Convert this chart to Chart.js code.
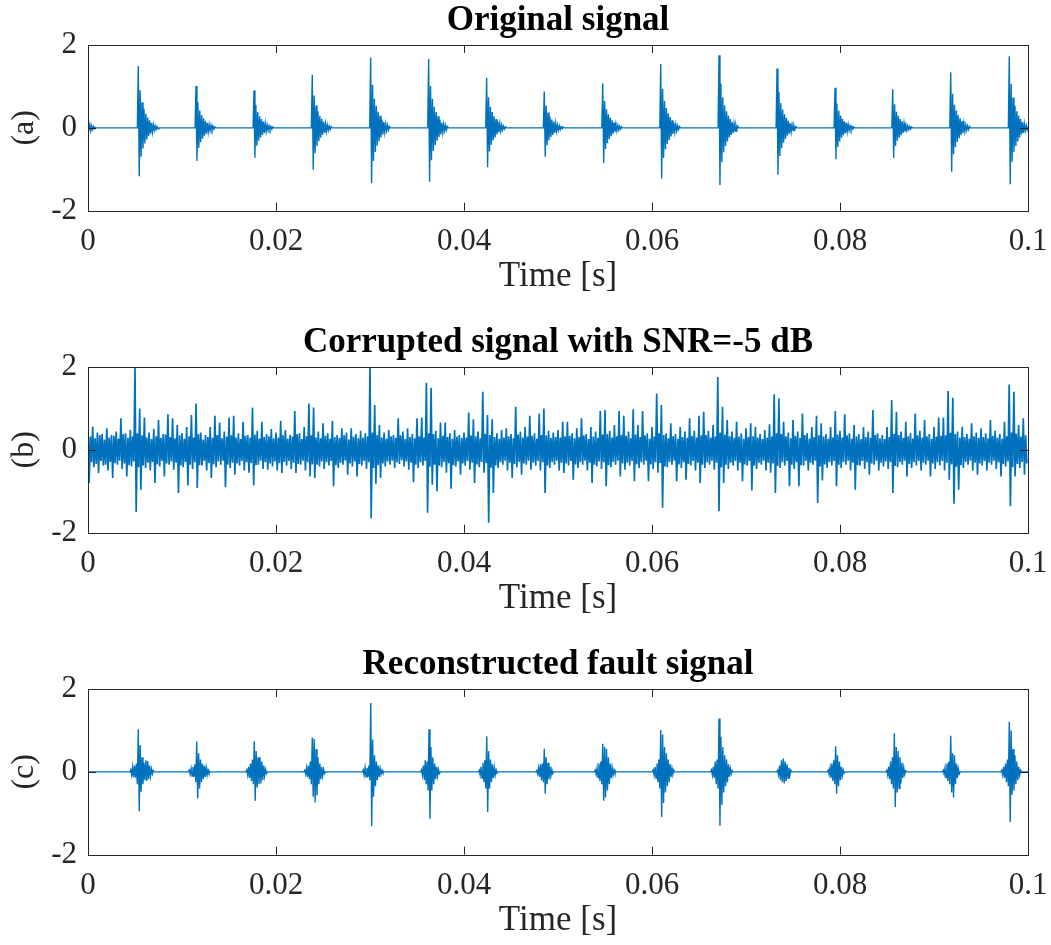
<!DOCTYPE html>
<html>
<head>
<meta charset="utf-8">
<title>Original / corrupted / reconstructed signal</title>
<script src="https://cdn.jsdelivr.net/npm/chart.js@4.4.0/dist/chart.umd.min.js"></script>
<style>
  body { margin: 0; background: #ffffff; }
  #figura { position: relative; width: 1051px; height: 945px; }
  #figura canvas { position: absolute; left: 0; }
</style>
</head>
<body>
<div id="figura">
  <canvas id="panelA" width="1051" height="300" style="top:0px"></canvas>
  <canvas id="panelB" width="1051" height="300" style="top:322px"></canvas>
  <canvas id="panelC" width="1051" height="300" style="top:644px"></canvas>
</div>
<script>
// ---- Datos ----
const xTicks = [0, 0.02, 0.04, 0.06, 0.08, 0.1];
const xTickLabels = ['0', '0.02', '0.04', '0.06', '0.08', '0.1'];
const yTicks = [-2, 0, 2];
const yTickLabels = ['-2', '0', '2'];
const panelTitles = ['Original signal', 'Corrupted signal with SNR=-5 dB', 'Reconstructed fault signal'];
const panelLabels = ['(a)', '(b)', '(c)'];
const xLabel = 'Time [s]';

// separacion entre muestras dentro de cada impulso [s]
const sampleStep = 0.0001;

// (a) senal original: inicio de cada impulso y sus muestras
const origStarts = [0, 0.00535, 0.01149, 0.01766, 0.02386, 0.03007, 0.03624, 0.04241, 0.04854,
  0.05476, 0.06093, 0.06713, 0.07330, 0.07947, 0.08561, 0.09178, 0.09801];
const origBursts = [
  [0.12, -0.10, 0.08, -0.07, 0.05, -0.04, 0.03, -0.02, 0.01],
  [1.49, -1.17, 0.91, -0.70, 0.62, -0.50, 0.46, -0.38, 0.34, -0.28, 0.25, -0.20, 0.18, -0.14, 0.12, -0.10, 0.08, -0.06, 0.05, -0.04, 0.03, -0.02],
  [1.01, -0.80, 0.62, -0.48, 0.42, -0.34, 0.31, -0.26, 0.23, -0.19, 0.17, -0.14, 0.12, -0.10, 0.08, -0.07, 0.06, -0.04, 0.04, -0.03, 0.02],
  [0.90, -0.72, 0.55, -0.43, 0.38, -0.31, 0.28, -0.23, 0.21, -0.17, 0.15, -0.12, 0.11, -0.09, 0.07, -0.06, 0.05, -0.04, 0.03, -0.03, 0.02],
  [1.28, -1.01, 0.78, -0.61, 0.54, -0.43, 0.40, -0.32, 0.29, -0.24, 0.22, -0.17, 0.15, -0.12, 0.10, -0.09, 0.07, -0.06, 0.04, -0.04, 0.03],
  [1.70, -1.34, 1.04, -0.80, 0.71, -0.58, 0.53, -0.43, 0.39, -0.32, 0.29, -0.23, 0.20, -0.16, 0.14, -0.11, 0.09, -0.07, 0.06, -0.05, 0.03],
  [1.66, -1.30, 1.01, -0.78, 0.70, -0.56, 0.51, -0.42, 0.38, -0.31, 0.28, -0.22, 0.20, -0.16, 0.13, -0.11, 0.09, -0.07, 0.06, -0.05, 0.03],
  [1.21, -0.95, 0.74, -0.57, 0.51, -0.41, 0.38, -0.30, 0.28, -0.23, 0.21, -0.16, 0.15, -0.11, 0.10, -0.08, 0.07, -0.05, 0.04, -0.03, 0.02],
  [0.88, -0.70, 0.54, -0.42, 0.37, -0.30, 0.27, -0.22, 0.20, -0.17, 0.15, -0.12, 0.11, -0.08, 0.07, -0.06, 0.05, -0.04, 0.03, -0.02, 0.02],
  [1.07, -0.85, 0.65, -0.51, 0.45, -0.37, 0.33, -0.27, 0.25, -0.20, 0.18, -0.14, 0.13, -0.10, 0.09, -0.07, 0.06, -0.05, 0.04, -0.03, 0.02],
  [1.54, -1.22, 0.94, -0.73, 0.65, -0.52, 0.48, -0.39, 0.35, -0.29, 0.26, -0.21, 0.18, -0.15, 0.12, -0.10, 0.08, -0.07, 0.05, -0.04, 0.03],
  [1.75, -1.38, 1.07, -0.83, 0.74, -0.59, 0.54, -0.44, 0.40, -0.33, 0.30, -0.23, 0.21, -0.17, 0.14, -0.12, 0.10, -0.08, 0.06, -0.05, 0.04],
  [1.43, -1.13, 0.87, -0.68, 0.60, -0.49, 0.44, -0.36, 0.33, -0.27, 0.24, -0.19, 0.17, -0.14, 0.11, -0.10, 0.08, -0.06, 0.05, -0.04, 0.03],
  [0.97, -0.76, 0.59, -0.46, 0.41, -0.33, 0.30, -0.24, 0.22, -0.18, 0.16, -0.13, 0.12, -0.09, 0.08, -0.06, 0.05, -0.04, 0.03, -0.03, 0.02],
  [0.93, -0.73, 0.57, -0.44, 0.39, -0.31, 0.29, -0.23, 0.21, -0.18, 0.16, -0.12, 0.11, -0.09, 0.07, -0.06, 0.05, -0.04, 0.03, -0.03, 0.02],
  [1.34, -1.06, 0.82, -0.64, 0.56, -0.46, 0.42, -0.34, 0.31, -0.25, 0.23, -0.18, 0.16, -0.13, 0.11, -0.09, 0.07, -0.06, 0.05, -0.04, 0.03],
  [1.73, -1.36, 1.06, -0.82, 0.73, -0.58, 0.54, -0.44, 0.40, -0.33, 0.29, -0.23, 0.21, -0.16, 0.14, -0.12, 0.10, -0.07, 0.06, -0.05, 0.03]
];

// (b) senal con ruido: en cada intervalo de 0.5 ms, pico alto, pico bajo y nucleo del ruido
const noiseBinWidth = 0.0005;
const noiseHi = [
  0.55, 0.56, 0.42, 0.38, 0.52, 0.36, 0.44, 0.76, 0.40, 0.48,
  2.00, 1.00, 0.78, 0.42, 0.50, 0.72, 0.38, 0.86, 0.76, 0.60,
  0.40, 0.55, 0.84, 1.12, 0.42, 0.36, 0.55, 0.82, 0.66, 0.44,
  0.78, 0.82, 0.40, 0.68, 0.36, 1.02, 0.46, 0.68, 0.38, 0.50,
  0.42, 0.70, 0.48, 0.36, 0.94, 0.40, 0.55, 1.12, 1.02, 0.44,
  0.64, 0.40, 0.70, 0.36, 0.52, 0.42, 0.52, 0.38, 0.46, 0.40,
  2.00, 1.08, 0.60, 0.42, 0.48, 0.36, 0.76, 0.44, 0.52, 0.38,
  0.76, 0.78, 1.62, 1.50, 0.46, 0.66, 0.66, 0.40, 0.48, 0.36,
  0.42, 0.90, 0.74, 0.44, 1.40, 0.84, 0.74, 0.40, 0.48, 0.52,
  0.38, 1.04, 0.44, 0.55, 0.82, 0.40, 0.88, 1.00, 0.46, 0.42,
  0.48, 0.68, 0.68, 0.40, 0.52, 0.76, 0.38, 0.55, 0.44, 0.94,
  0.96, 0.46, 0.60, 0.94, 0.82, 0.44, 0.98, 0.60, 0.94, 0.40,
  0.55, 1.36, 1.08, 0.40, 0.64, 0.38, 0.55, 0.44, 0.76, 0.46,
  0.82, 0.92, 0.46, 0.60, 1.76, 1.04, 0.72, 0.44, 0.68, 0.40,
  0.52, 0.64, 0.56, 0.38, 0.48, 0.62, 1.34, 1.24, 0.68, 0.42,
  0.72, 0.44, 0.88, 0.40, 0.55, 0.82, 0.64, 0.38, 0.55, 0.94,
  0.46, 0.86, 0.40, 0.60, 0.38, 0.55, 0.44, 0.96, 0.40, 0.36,
  0.55, 1.20, 0.92, 0.44, 0.68, 0.40, 0.88, 0.46, 0.72, 0.38,
  0.55, 0.78, 0.78, 1.42, 1.26, 0.44, 0.56, 0.38, 0.64, 0.42,
  0.52, 0.40, 0.72, 0.46, 0.38, 0.68, 1.58, 1.40, 0.60, 0.76
];
const noiseLo = [
  -0.80, -0.42, -0.56, -0.38, -0.50, -0.68, -0.36, -0.46, -0.64, -0.40,
  -1.50, -0.96, -0.44, -0.50, -0.80, -0.40, -0.64, -0.36, -0.48, -1.04,
  -0.42, -0.86, -0.46, -0.92, -0.38, -0.50, -0.68, -0.42, -0.36, -0.90,
  -0.44, -0.60, -0.38, -0.50, -0.55, -0.86, -0.36, -0.46, -0.48, -0.40,
  -0.50, -0.56, -0.38, -0.46, -0.56, -0.36, -0.50, -0.64, -0.68, -0.40,
  -0.46, -0.38, -0.88, -0.44, -0.36, -0.60, -0.40, -0.64, -0.38, -0.46,
  -1.66, -0.82, -0.68, -0.40, -0.36, -0.44, -0.34, -0.40, -0.48, -0.78,
  -0.44, -0.38, -1.52, -0.84, -1.00, -0.42, -0.55, -0.94, -0.40, -0.60,
  -0.38, -0.48, -0.80, -0.42, -0.55, -1.76, -1.04, -0.44, -0.36, -0.50,
  -0.68, -0.42, -0.60, -0.36, -0.48, -0.38, -0.50, -1.04, -0.44, -0.36,
  -0.50, -0.56, -0.38, -0.72, -0.44, -0.36, -0.50, -0.80, -0.40, -0.46,
  -0.88, -0.42, -0.36, -0.64, -0.48, -0.38, -0.76, -0.44, -0.36, -0.76,
  -0.46, -0.55, -1.40, -0.42, -0.36, -0.76, -0.44, -0.72, -0.38, -0.50,
  -0.80, -0.44, -0.36, -0.48, -1.48, -0.80, -0.46, -0.38, -0.50, -0.76,
  -0.38, -0.98, -0.46, -0.36, -0.50, -0.55, -1.04, -0.44, -0.38, -0.88,
  -0.46, -0.88, -0.38, -0.50, -0.36, -1.28, -0.74, -0.44, -0.38, -0.88,
  -0.44, -0.36, -0.50, -0.96, -0.38, -0.46, -0.60, -0.36, -0.50, -0.40,
  -0.46, -1.04, -0.42, -0.36, -0.64, -0.44, -0.38, -0.50, -0.36, -0.64,
  -0.46, -0.38, -0.50, -0.72, -1.30, -0.96, -0.44, -0.36, -0.50, -0.60,
  -0.38, -0.50, -0.36, -0.46, -0.64, -0.40, -1.36, -0.64, -0.44, -0.60
];
const noiseMidHi = [
  0.32, 0.28, 0.36, 0.25, 0.30, 0.34, 0.27, 0.38, 0.29, 0.33,
  0.40, 0.35, 0.30, 0.26, 0.33, 0.29, 0.37, 0.31, 0.28, 0.35,
  0.27, 0.33, 0.30, 0.38, 0.25, 0.31, 0.29, 0.36, 0.28, 0.32,
  0.35, 0.30, 0.26, 0.34, 0.29, 0.37, 0.27, 0.31, 0.33, 0.28,
  0.30, 0.36, 0.27, 0.32, 0.38, 0.26, 0.33, 0.35, 0.30, 0.28,
  0.34, 0.27, 0.31, 0.29, 0.36, 0.25, 0.32, 0.28, 0.30, 0.33,
  0.42, 0.36, 0.30, 0.27, 0.33, 0.29, 0.35, 0.26, 0.31, 0.28,
  0.33, 0.30, 0.40, 0.38, 0.28, 0.34, 0.31, 0.27, 0.32, 0.29,
  0.30, 0.35, 0.33, 0.28, 0.39, 0.36, 0.31, 0.27, 0.30, 0.33,
  0.28, 0.37, 0.30, 0.32, 0.34, 0.27, 0.36, 0.35, 0.29, 0.31,
  0.30, 0.33, 0.34, 0.28, 0.31, 0.35, 0.26, 0.32, 0.29, 0.37,
  0.38, 0.30, 0.33, 0.36, 0.34, 0.28, 0.37, 0.31, 0.35, 0.27,
  0.32, 0.40, 0.36, 0.28, 0.33, 0.27, 0.31, 0.29, 0.34, 0.30,
  0.35, 0.36, 0.30, 0.32, 0.42, 0.37, 0.33, 0.29, 0.32, 0.27,
  0.31, 0.33, 0.30, 0.26, 0.29, 0.32, 0.40, 0.38, 0.33, 0.28,
  0.34, 0.29, 0.36, 0.27, 0.31, 0.35, 0.32, 0.27, 0.30, 0.37,
  0.30, 0.35, 0.27, 0.32, 0.26, 0.31, 0.29, 0.36, 0.28, 0.26,
  0.31, 0.39, 0.36, 0.29, 0.33, 0.27, 0.35, 0.30, 0.33, 0.27,
  0.32, 0.34, 0.35, 0.41, 0.38, 0.30, 0.31, 0.27, 0.33, 0.29,
  0.31, 0.28, 0.34, 0.30, 0.27, 0.33, 0.42, 0.39, 0.32, 0.35
];
const noiseMidLo = [
  -0.30, -0.34, -0.27, -0.36, -0.29, -0.32, -0.26, -0.33, -0.37, -0.28,
  -0.42, -0.38, -0.31, -0.29, -0.35, -0.27, -0.33, -0.28, -0.31, -0.38,
  -0.29, -0.36, -0.30, -0.37, -0.27, -0.32, -0.35, -0.28, -0.26, -0.36,
  -0.31, -0.33, -0.27, -0.30, -0.32, -0.37, -0.26, -0.30, -0.33, -0.28,
  -0.32, -0.29, -0.27, -0.31, -0.34, -0.26, -0.30, -0.35, -0.36, -0.28,
  -0.30, -0.27, -0.37, -0.31, -0.26, -0.33, -0.28, -0.34, -0.27, -0.30,
  -0.44, -0.37, -0.33, -0.28, -0.26, -0.30, -0.25, -0.28, -0.31, -0.36,
  -0.30, -0.27, -0.41, -0.36, -0.38, -0.29, -0.32, -0.37, -0.28, -0.33,
  -0.27, -0.31, -0.35, -0.29, -0.32, -0.43, -0.38, -0.30, -0.26, -0.31,
  -0.34, -0.29, -0.33, -0.26, -0.31, -0.27, -0.30, -0.38, -0.29, -0.26,
  -0.31, -0.33, -0.27, -0.35, -0.30, -0.26, -0.31, -0.36, -0.28, -0.30,
  -0.37, -0.29, -0.26, -0.33, -0.31, -0.27, -0.35, -0.30, -0.26, -0.35,
  -0.30, -0.32, -0.40, -0.29, -0.26, -0.35, -0.30, -0.34, -0.27, -0.31,
  -0.36, -0.30, -0.26, -0.31, -0.42, -0.36, -0.31, -0.27, -0.31, -0.35,
  -0.27, -0.38, -0.31, -0.26, -0.31, -0.33, -0.39, -0.30, -0.27, -0.36,
  -0.30, -0.37, -0.27, -0.31, -0.26, -0.40, -0.35, -0.29, -0.27, -0.36,
  -0.29, -0.26, -0.31, -0.37, -0.27, -0.30, -0.33, -0.26, -0.31, -0.28,
  -0.30, -0.39, -0.29, -0.26, -0.34, -0.30, -0.27, -0.31, -0.26, -0.33,
  -0.30, -0.27, -0.31, -0.35, -0.41, -0.37, -0.29, -0.26, -0.31, -0.33,
  -0.27, -0.31, -0.26, -0.30, -0.34, -0.28, -0.42, -0.34, -0.29, -0.33
];

// (c) senal reconstruida: inicio de cada paquete y sus muestras
const recStarts = [0.00455, 0.01077, 0.01689, 0.02306, 0.02928, 0.03548, 0.04162, 0.04774,
  0.05396, 0.06013, 0.06633, 0.07337, 0.07874, 0.08498, 0.09098, 0.09721];
const recBursts = [
  [0.05, -0.08, 0.12, -0.13, 0.15, -0.14, 0.20, -0.30, 1.03, -0.95, 0.65, -0.48, 0.35, -0.30, 0.22, -0.20, 0.28, -0.22, 0.26, -0.18, 0.15, -0.10, 0.07, -0.05, 0.03],
  [0.04, -0.06, 0.08, -0.10, 0.12, -0.12, 0.18, -0.25, 0.73, -0.64, 0.45, -0.40, 0.30, -0.25, 0.20, -0.18, 0.15, -0.12, 0.10, -0.08, 0.05, -0.03],
  [0.05, -0.08, 0.12, -0.15, 0.20, -0.22, 0.30, -0.30, 0.74, -0.70, 0.50, -0.38, 0.35, -0.30, 0.35, -0.28, 0.25, -0.20, 0.15, -0.10, 0.06, -0.04],
  [0.04, -0.06, 0.10, -0.12, 0.15, -0.18, 0.25, -0.30, 0.83, -0.60, 0.80, -0.74, 0.55, -0.57, 0.35, -0.30, 0.20, -0.18, 0.12, -0.10, 0.06, -0.04],
  [0.05, -0.08, 0.10, -0.12, 0.10, -0.12, 0.15, -0.20, 1.66, -1.31, 0.78, -0.60, 0.40, -0.35, 0.25, -0.20, 0.15, -0.12, 0.08, -0.06, 0.04, -0.02],
  [0.05, -0.08, 0.15, -0.20, 0.28, -0.30, 0.25, -0.45, 1.03, -1.13, 0.60, -0.45, 0.35, -0.30, 0.20, -0.18, 0.12, -0.10, 0.06, -0.04],
  [0.04, -0.08, 0.12, -0.15, 0.22, -0.25, 0.28, -0.40, 0.86, -0.97, 0.50, -0.40, 0.30, -0.25, 0.18, -0.15, 0.10, -0.08, 0.05, -0.03],
  [0.03, -0.05, 0.10, -0.12, 0.18, -0.20, 0.20, -0.25, 0.56, -0.53, 0.35, -0.30, 0.22, -0.18, 0.12, -0.10, 0.06, -0.04],
  [0.04, -0.06, 0.10, -0.14, 0.20, -0.22, 0.25, -0.30, 0.68, -0.70, 0.60, -0.62, 0.55, -0.45, 0.35, -0.30, 0.20, -0.15, 0.10, -0.08, 0.05, -0.03],
  [0.05, -0.08, 0.12, -0.15, 0.20, -0.25, 0.30, -0.40, 1.01, -1.09, 0.90, -0.75, 0.60, -0.50, 0.45, -0.35, 0.30, -0.25, 0.18, -0.12, 0.08, -0.05, 0.03],
  [0.05, -0.08, 0.12, -0.15, 0.25, -0.30, 0.30, -0.40, 1.29, -1.30, 0.85, -0.80, 0.60, -0.50, 0.40, -0.35, 0.30, -0.25, 0.18, -0.12, 0.08, -0.05, 0.03],
  [0.04, -0.08, 0.15, -0.20, 0.28, -0.25, 0.32, -0.28, 0.25, -0.22, 0.18, -0.15, 0.10, -0.08, 0.04],
  [0.04, -0.06, 0.10, -0.15, 0.20, -0.22, 0.28, -0.30, 0.62, -0.53, 0.40, -0.35, 0.25, -0.20, 0.12, -0.10, 0.05, -0.03],
  [0.04, -0.08, 0.12, -0.18, 0.25, -0.30, 0.35, -0.40, 0.93, -0.85, 0.60, -0.50, 0.50, -0.40, 0.35, -0.28, 0.22, -0.15, 0.10, -0.06, 0.03],
  [0.04, -0.06, 0.10, -0.14, 0.20, -0.22, 0.25, -0.30, 0.87, -0.50, 0.45, -0.62, 0.40, -0.30, 0.20, -0.15, 0.08, -0.05],
  [0.04, -0.08, 0.12, -0.15, 0.20, -0.25, 0.30, -0.35, 1.21, -1.21, 1.00, -0.55, 0.55, -0.45, 0.40, -0.30, 0.25, -0.20, 0.12, -0.08, 0.04]
];

// ---- Construccion de las series ----
const FUENTE = "'Liberation Serif', 'Times New Roman', serif";
const COLOR_EJES = '#262626';
const AZUL = '#0072BD';

const serieImpulsos = (starts, bursts) => {
    const pts = [{ x: 0, y: 0 }];
    starts.forEach((t0, i) => {
        const muestras = bursts[i];
        if (t0 > 0) pts.push({ x: t0 - sampleStep, y: 0 });
        muestras.forEach((v, k) => pts.push({ x: t0 + k * sampleStep, y: v }));
        pts.push({ x: t0 + muestras.length * sampleStep, y: 0 });
    });
    pts.push({ x: xTicks[xTicks.length - 1], y: 0 });
    return pts;
};

const serieRuido = () => {
    const pts = [];
    const cuarto = noiseBinWidth / 4;
    noiseHi.forEach((hi, i) => {
        const t0 = i * noiseBinWidth;
        pts.push({ x: t0, y: hi });
        pts.push({ x: t0 + cuarto, y: noiseLo[i] });
        pts.push({ x: t0 + 2 * cuarto, y: noiseMidHi[i] });
        pts.push({ x: t0 + 3 * cuarto, y: noiseMidLo[i] });
    });
    return pts;
};

// caja y marcas hacia dentro, como en MATLAB
const pluginCaja = {
    id: 'cajaEjes',
    afterDraw(chart) {
        const { ctx, chartArea: a, scales } = chart;
        const largo = 8;
        ctx.save();
        ctx.strokeStyle = COLOR_EJES;
        ctx.lineWidth = 1;
        ctx.strokeRect(Math.round(a.left) + 0.5, Math.round(a.top) + 0.5,
            Math.round(a.right - a.left), Math.round(a.bottom - a.top));
        ctx.beginPath();
        xTicks.forEach(v => {
            const px = Math.round(scales.x.getPixelForValue(v)) + 0.5;
            ctx.moveTo(px, a.bottom); ctx.lineTo(px, a.bottom - largo);
            ctx.moveTo(px, a.top); ctx.lineTo(px, a.top + largo);
        });
        yTicks.forEach(v => {
            const py = Math.round(scales.y.getPixelForValue(v)) + 0.5;
            ctx.moveTo(a.left, py); ctx.lineTo(a.left + largo, py);
            ctx.moveTo(a.right, py); ctx.lineTo(a.right - largo, py);
        });
        ctx.stroke();
        ctx.restore();
    }
};

const crearPanel = (idCanvas, indice, datos, grosor) => {
    const ctx = document.getElementById(idCanvas).getContext('2d');
    return new Chart(ctx, {
        type: 'line',
        data: {
            datasets: [{
                data: datos,
                borderColor: AZUL,
                borderWidth: grosor,
                pointRadius: 0,
                tension: 0,
                fill: false
            }]
        },
        plugins: [pluginCaja],
        options: {
            responsive: false,
            animation: false,
            parsing: false,
            devicePixelRatio: 1,
            events: [],
            layout: { padding: { left: 0, right: 23, top: 0, bottom: 2.6 } },
            plugins: {
                legend: { display: false },
                tooltip: { enabled: false },
                title: {
                    display: true,
                    fullSize: false,   // centrado sobre el area de trazado
                    text: panelTitles[indice],
                    color: '#000000',
                    font: { family: FUENTE, size: 35, weight: 'bold' },
                    padding: { top: 0, bottom: 3 }
                }
            },
            scales: {
                x: {
                    type: 'linear',
                    min: xTicks[0],
                    max: xTicks[xTicks.length - 1],
                    grid: { display: false, drawTicks: false },
                    border: { display: false },
                    afterBuildTicks: s => { s.ticks = xTicks.map(v => ({ value: v })); },
                    afterFit: s => { s.height = 86.7; },
                    ticks: {
                        autoSkip: false,
                        maxRotation: 0,
                        padding: 0,
                        color: COLOR_EJES,
                        font: { family: FUENTE, size: 31, lineHeight: '62px' },
                        callback: (v, i) => xTickLabels[i]
                    },
                    title: {
                        display: true,
                        text: xLabel,
                        color: COLOR_EJES,
                        font: { family: FUENTE, size: 35 },
                        padding: { top: 0, bottom: 0 }
                    }
                },
                y: {
                    type: 'linear',
                    min: yTicks[0],
                    max: yTicks[yTicks.length - 1],
                    grid: { display: false, drawTicks: false },
                    border: { display: false },
                    afterBuildTicks: s => { s.ticks = yTicks.map(v => ({ value: v })); },
                    afterFit: s => { s.width = 88; },
                    ticks: {
                        padding: 11,
                        color: COLOR_EJES,
                        font: { family: FUENTE, size: 31 },
                        callback: (v, i) => yTickLabels[i]
                    },
                    title: {
                        display: true,
                        text: panelLabels[indice],
                        color: COLOR_EJES,
                        font: { family: FUENTE, size: 32 },
                        padding: { top: 5, bottom: 0 }
                    }
                }
            }
        }
    });
};

document.addEventListener('DOMContentLoaded', () => {
    crearPanel('panelA', 0, serieImpulsos(origStarts, origBursts), 1.4);
    crearPanel('panelB', 1, serieRuido(), 1.7);
    crearPanel('panelC', 2, serieImpulsos(recStarts, recBursts), 1.4);
});
</script>
</body>
</html>
